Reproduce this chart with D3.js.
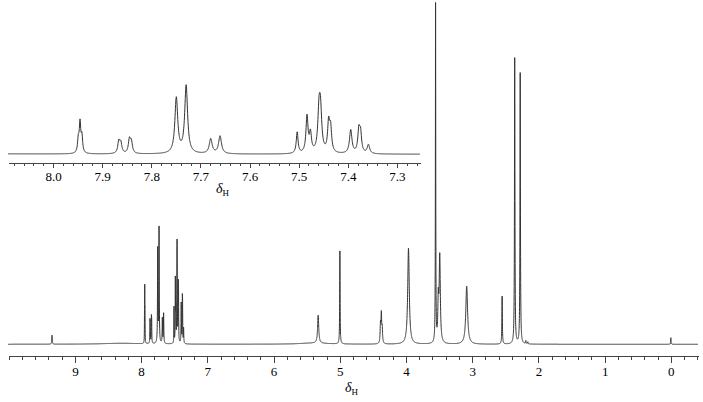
<!DOCTYPE html>
<html lang="en">
<head>
  <meta charset="UTF-8">
  <title>1H NMR spectrum</title>
  <style>
    * { margin: 0; padding: 0; }
    body { background: #fff; }
    svg { display: block; }
    .axis path, .axis line { stroke: #444; stroke-width: 1; fill: none; shape-rendering: crispEdges; }
    .axis text { font-family: "Liberation Serif", "Times New Roman", serif; font-size: 13px; fill: #000; }
    .spec { fill: none; stroke: #333; stroke-width: 1; }
    .lbl { font-family: "Liberation Serif", "Times New Roman", serif; fill: #000; }
  </style>
</head>
<body>
  <div id="chart"></div>
  <script src="https://cdnjs.cloudflare.com/ajax/libs/d3/7.8.5/d3.min.js"></script>
  <script>
    // peak list: shift (ppm), height (main px units), half width (ppm)
    var peakShift = [9.345, 8.30, 5.40,
      7.9485, 7.9450, 7.9412, 7.8660, 7.8620, 7.8445, 7.8405,
      7.7490, 7.7290, 7.6790, 7.6600,
      7.5030, 7.4830, 7.4760, 7.4585, 7.4555, 7.4390, 7.4350,
      7.3940, 7.3775, 7.3740, 7.3580,
      5.326, 4.998, 4.385, 4.372, 4.359, 3.962, 3.553, 3.512, 3.490,
      3.083, 2.548, 2.358, 2.275, 2.19, 2.16, 0.0];
    var peakHeight = [9, 1, 1.2,
      22, 50, 27, 20, 17, 23, 19,
      94, 115, 25, 30,
      36, 62, 32, 64, 64, 49, 40,
      40, 37, 32, 15,
      28, 93, 18, 28, 14, 96, 338, 40, 86,
      58, 48, 286, 271, 3, 2, 6.6];
    var peakWidth = [0.004, 0.35, 0.25,
      0.0018, 0.0018, 0.0018, 0.0025, 0.0025, 0.0025, 0.0025,
      0.0035, 0.0035, 0.0035, 0.0035,
      0.0022, 0.0025, 0.0025, 0.003, 0.003, 0.0025, 0.0025,
      0.003, 0.0025, 0.0025, 0.003,
      0.010, 0.0035, 0.006, 0.006, 0.006, 0.014, 0.003, 0.008, 0.010,
      0.016, 0.004, 0.004, 0.004, 0.004, 0.004, 0.003];

    var mainMajor = [9, 8, 7, 6, 5, 4, 3, 2, 1, 0];
    var insetMajor = [8.0, 7.9, 7.8, 7.7, 7.6, 7.5, 7.4, 7.3];

    var W = 703, H = 402;
    var svg = d3.select('#chart').append('svg').attr('width', W).attr('height', H);

    var xMain = d3.scaleLinear().domain([10.01, -0.41]).range([8, 698]);
    var yMain = d3.scaleLinear().domain([0, 340]).range([344.3, 4.3]);
    var xIns = d3.scaleLinear().domain([8.0916, 7.253]).range([8, 420]);
    var yIns = d3.scaleLinear().domain([0, 340]).range([154.3, 154.3 - 340 / 1.7]);

    function intensity(p) {
      var s = 0;
      for (var i = 0; i < peakShift.length; i++) {
        var u = (p - peakShift[i]) / peakWidth[i];
        s += peakHeight[i] / (1 + u * u);
      }
      return s;
    }

    function grid(a, b, step) {
      var pts = d3.range(a, b, -step).concat(peakShift.filter(function(p) { return p <= a && p >= b; }));
      return pts.sort(function(m, n) { return n - m; });
    }

    // main spectrum
    var mainPts = grid(10.01, -0.41, 0.0008);
    svg.append('path').attr('class', 'spec')
      .attr('d', d3.line().x(function(p) { return xMain(p); }).y(function(p) { return yMain(intensity(p)); })(mainPts));

    // inset spectrum
    var insPts = grid(8.0916, 7.253, 0.0004);
    svg.append('path').attr('class', 'spec')
      .attr('d', d3.line().x(function(p) { return xIns(p); }).y(function(p) { return yIns(intensity(p)); })(insPts));

    // main axis
    var mainMinor = d3.range(0, 53).map(function(i) { return +(10.0 - i * 0.2).toFixed(1); });
    svg.append('g').attr('class', 'axis').attr('transform', 'translate(0,356)')
      .call(d3.axisBottom(xMain).tickValues(mainMinor).tickSizeInner(4).tickSizeOuter(0).tickFormat(''));
    svg.append('g').attr('class', 'axis').attr('transform', 'translate(0,356)')
      .call(d3.axisBottom(xMain).tickValues(mainMajor).tickSizeInner(7).tickSizeOuter(0).tickPadding(4).tickFormat(d3.format('d')))
      .select('.domain').remove();

    // inset axis
    var insMinor = d3.range(0, 42).map(function(i) { return +(8.08 - i * 0.02).toFixed(2); });
    svg.append('g').attr('class', 'axis').attr('transform', 'translate(0,162.5)')
      .call(d3.axisBottom(xIns).tickValues(insMinor).tickSizeInner(3).tickSizeOuter(0).tickFormat(''));
    svg.append('g').attr('class', 'axis').attr('transform', 'translate(0,162.5)')
      .call(d3.axisBottom(xIns).tickValues(insetMajor).tickSizeInner(5).tickSizeOuter(0).tickPadding(4).tickFormat(d3.format('.1f')))
      .select('.domain').remove();

    // axis titles
    function deltaH(x, y) {
      var t = svg.append('text').attr('class', 'lbl').attr('x', x).attr('y', y);
      t.append('tspan').attr('font-style', 'italic').attr('font-size', 14).text('δ');
      t.append('tspan').attr('font-size', 9).attr('dy', 3).text('H');
    }
    deltaH(345, 392);
    deltaH(216, 193);
  </script>
</body>
</html>
